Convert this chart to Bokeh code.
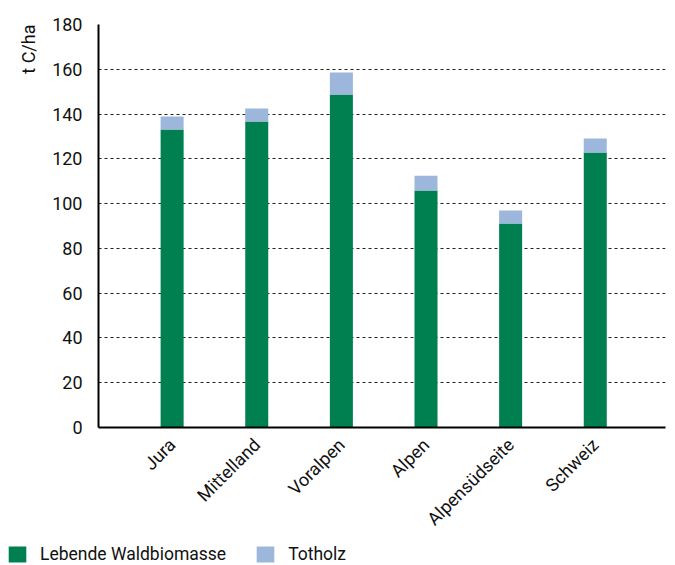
import math
from bokeh.plotting import figure
from bokeh.layouts import column
from bokeh.models import ColumnDataSource, FixedTicker, Legend, LegendItem, Title, Range1d
from bokeh.embed import file_html
from bokeh.resources import INLINE

regions = ["Jura", "Mittelland", "Voralpen", "Alpen", "Alpensüdseite", "Schweiz"]
lebende = [133.1, 136.7, 148.7, 105.9, 91.1, 122.8]
totholz = [5.8, 5.8, 9.9, 6.6, 5.8, 6.3]
y_ticks = [0, 20, 40, 60, 80, 100, 120, 140, 160, 180]
series_names = ["Lebende Waldbiomasse", "Totholz"]

GREEN = "#008050"
BLUE = "#9db6dc"
FONT = "Roboto"

xs = list(range(len(regions)))
src = ColumnDataSource(dict(x=xs, lebende=lebende, totholz=totholz))

p = figure(width=667, height=543, output_backend="svg", toolbar_location=None,
           x_range=Range1d(-0.87, 5.83), y_range=Range1d(0, 180),
           min_border_left=98, min_border_right=2, min_border_top=24,
           min_border_bottom=116)
p.outline_line_color = None

rs = p.vbar_stack(["lebende", "totholz"], x="x", width=0.272, source=src,
                  color=[GREEN, BLUE], line_color=None)

p.xaxis.ticker = FixedTicker(ticks=xs)
p.xaxis.major_label_overrides = {i: r for i, r in enumerate(regions)}
p.xaxis.major_label_orientation = math.pi / 4
p.yaxis.ticker = FixedTicker(ticks=y_ticks)

for ax in (p.xaxis, p.yaxis):
    ax.axis_line_width = 2
    ax.axis_line_color = "black"
    ax.major_tick_line_color = None
    ax.minor_tick_line_color = None
    ax.major_label_text_font = FONT
    ax.major_label_text_font_size = "18px"
    ax.major_label_text_color = "#111111"
p.yaxis.major_label_standoff = 10
p.xaxis.major_label_standoff = 8

p.xgrid.grid_line_color = None
p.ygrid.grid_line_color = "#222222"
p.ygrid.grid_line_dash = "3 3"
p.ygrid.grid_line_width = 1

ylab = Title(text="t C/ha", align="right", text_font=FONT, text_font_size="18px",
             text_font_style="normal", text_color="#111111", standoff=22)
p.add_layout(ylab, "left")

# legend strip
lg = figure(width=667, height=21, output_backend="svg", toolbar_location=None,
            x_range=Range1d(0, 1), y_range=Range1d(0, 1),
            x_axis_type=None, y_axis_type=None, min_border=0,
            min_border_left=0, min_border_right=0, min_border_top=0, min_border_bottom=0)
if "frame_align" in lg.properties():
    lg.frame_align = False
lg.outline_line_color = None
lg.xgrid.grid_line_color = None
lg.ygrid.grid_line_color = None
# legend-only renderers: their single bar lies outside the strip's visible range
dummy = ColumnDataSource(dict(x=[-10], top=[0]))
r1 = lg.vbar(x="x", top="top", width=1, source=dummy, color=GREEN, line_color=None)
r2 = lg.vbar(x="x", top="top", width=1, source=dummy, color=BLUE, line_color=None)

legend = Legend(items=[LegendItem(label=series_names[0], renderers=[r1]),
                       LegendItem(label=series_names[1], renderers=[r2])],
                orientation="horizontal", location=(6, 0),
                glyph_width=22, glyph_height=20, label_text_font=FONT,
                label_text_font_size="17.5px", label_standoff=12, spacing=28,
                border_line_color=None, background_fill_alpha=0,
                padding=0, margin=0, label_height=20)
legend.label_text_color = "#111111"
lg.add_layout(legend)

layout = column(p, lg, spacing=0)
open("out.html", "w").write(file_html(layout, INLINE))
